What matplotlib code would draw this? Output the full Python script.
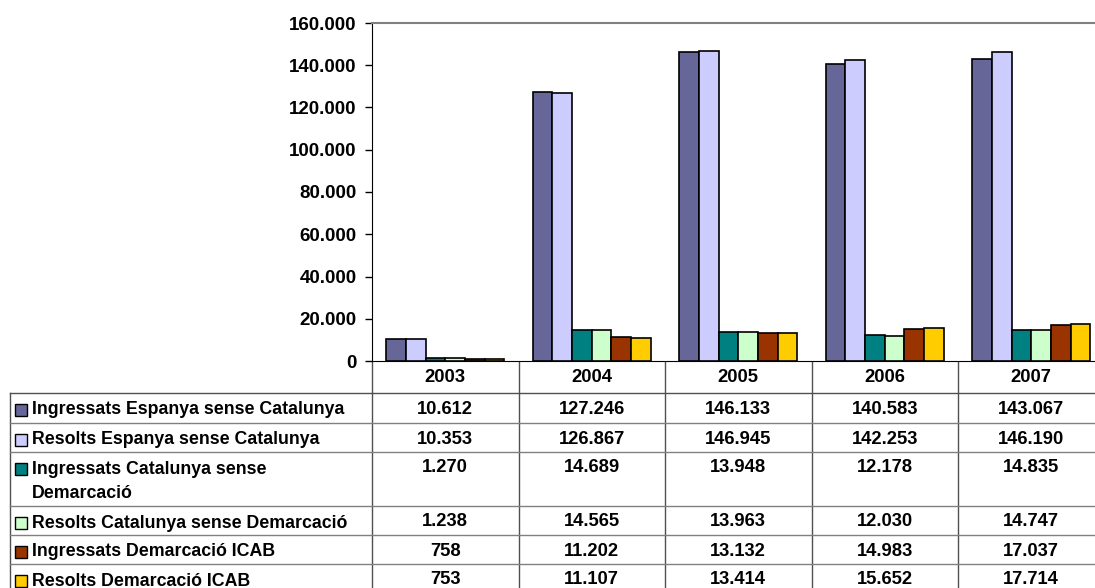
import matplotlib
matplotlib.use("Agg")
import matplotlib.pyplot as plt
from matplotlib.patches import Rectangle

plt.rcParams['font.family'] = ['Liberation Sans', 'DejaVu Sans']
plt.rcParams['font.weight'] = 'bold'

years = ['2003', '2004', '2005', '2006', '2007']
series_names = [
    'Ingressats Espanya sense Catalunya',
    'Resolts Espanya sense Catalunya',
    'Ingressats Catalunya sense\nDemarcació',
    'Resolts Catalunya sense Demarcació',
    'Ingressats Demarcació ICAB',
    'Resolts Demarcació ICAB',
]
ingressats_espanya = [10612, 127246, 146133, 140583, 143067]
resolts_espanya = [10353, 126867, 146945, 142253, 146190]
ingressats_catalunya = [1270, 14689, 13948, 12178, 14835]
resolts_catalunya = [1238, 14565, 13963, 12030, 14747]
ingressats_icab = [758, 11202, 13132, 14983, 17037]
resolts_icab = [753, 11107, 13414, 15652, 17714]
series = [ingressats_espanya, resolts_espanya, ingressats_catalunya,
          resolts_catalunya, ingressats_icab, resolts_icab]
colors = ['#666699', '#CCCCFF', '#008080', '#CCFFCC', '#993300', '#FFCC00']
yticks = [0, 20000, 40000, 60000, 80000, 100000, 120000, 140000, 160000]


def fmt(v):
    return f"{v:,}".replace(',', '.')


W, H = 1095, 588
fig = plt.figure(figsize=(W / 100, H / 100), dpi=100)

# overlay axes in pixel coordinates for the data table
ov = fig.add_axes([0, 0, 1, 1], zorder=0)
ov.set_xlim(0, W)
ov.set_ylim(H, 0)
ov.axis('off')

# chart axes
x0, x1, ytop, ybot = 372, 1104.5, 23, 361
ax = fig.add_axes([x0 / W, (H - ybot) / H, (x1 - x0) / W, (ybot - ytop) / H], zorder=1)
n = len(series)
bw = 0.134
for i, (vals, c) in enumerate(zip(series, colors)):
    xs = [k + (i - (n - 1) / 2) * bw for k in range(len(years))]
    ax.bar(xs, vals, width=bw, color=c, edgecolor='black', linewidth=1.2, zorder=3)
ax.set_xlim(-0.5, len(years) - 0.5)
ax.set_ylim(0, 160000)
ax.set_yticks(yticks)
ax.set_yticklabels([fmt(v) for v in yticks], fontsize=13.5, fontweight='bold')
ax.tick_params(axis='y', direction='out', length=5, width=1, pad=6)
ax.set_xticks([])
ax.spines['right'].set_visible(False)
ax.spines['top'].set_color('#808080')
ax.spines['top'].set_linewidth(1.5)
ax.spines['left'].set_color('black')
ax.spines['bottom'].set_color('black')

# table geometry (pixels)
cat_w = (x1 - x0) / len(years)
col_edges = [x0 + k * cat_w for k in range(len(years) + 1)]
row_edges = [361, 393, 423, 452, 506, 535, 564, 594]
tleft = 10

# vertical lines
for k, xe in enumerate(col_edges):
    ov.plot([xe, xe], [361, H], color='#505050', lw=1.0, clip_on=False)
ov.plot([tleft, tleft], [393, H], color='#505050', lw=1.0)
# horizontal lines
ov.plot([x0, W], [393, 393], color='#505050', lw=1.0)
ov.plot([tleft, x0], [393, 393], color='#505050', lw=1.0)
for ye in row_edges[2:-1]:
    ov.plot([tleft, W], [ye, ye], color='#808080', lw=1.0)

# header years
for k, y in enumerate(years):
    ov.text((col_edges[k] + col_edges[k + 1]) / 2, 378, y, ha='center', va='center',
            fontsize=13.3, fontweight='bold')

# rows
for i, (name, vals, c) in enumerate(zip(series_names, series, colors)):
    top = row_edges[i + 1]
    yc = top + 17
    ov.add_patch(Rectangle((15, yc - 6), 12, 12, facecolor=c, edgecolor='black', lw=1.0))
    lines = name.split('\n')
    for j, ln in enumerate(lines):
        ov.text(32, yc + j * 24, ln, ha='left', va='center', fontsize=12.8, fontweight='bold')
    for k, v in enumerate(vals):
        ov.text((col_edges[k] + col_edges[k + 1]) / 2, yc - 1, fmt(v), ha='center',
                va='center', fontsize=13.2, fontweight='bold')

fig.savefig('out.png', dpi=100)
